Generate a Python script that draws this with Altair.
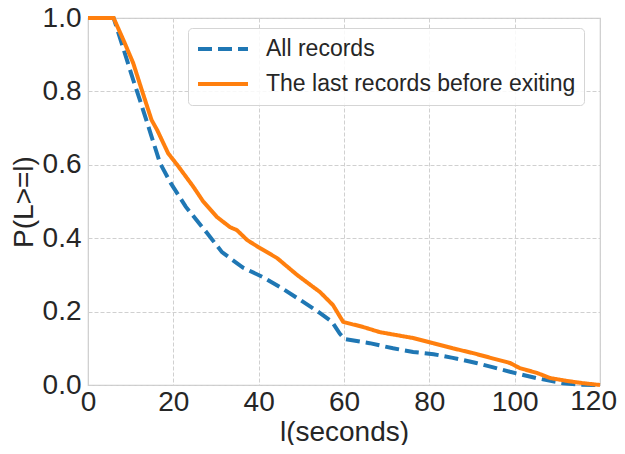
import altair as alt
import pandas as pd

# Series names
series_all = "All records"
series_last = "The last records before exiting"

# All records (blue dashed)
all_x = [0, 6, 7.9, 10.6, 11.9, 14.9, 16.9, 19.4, 22.9, 27.9, 31.4, 36.3, 41, 45, 49.7,
         54.4, 57.2, 59, 60.2, 66, 71.5, 76.2, 81, 85.5, 91, 95, 98.9, 105, 111.3, 115, 120]
all_y = [1, 1, 0.931, 0.831, 0.786, 0.677, 0.604, 0.55, 0.486, 0.414, 0.362, 0.32, 0.294,
         0.267, 0.232, 0.196, 0.172, 0.14, 0.125, 0.114, 0.10, 0.09, 0.084, 0.074, 0.06,
         0.048, 0.036, 0.019, 0.005, 0.001, 0]

# Last records before exiting (orange solid)
last_x = [0, 6, 8.3, 10.6, 12.6, 14.9, 16.2, 18.8, 20.9, 24.7, 27, 30.2, 33.3, 34.9, 37.3,
          40.3, 44.3, 49, 54.4, 57.4, 59.8, 64.5, 68.4, 76.2, 80.9, 85.5, 90.2, 95, 98.9,
          101.2, 105.2, 108.3, 112.3, 116, 120]
last_y = [1, 1, 0.94, 0.877, 0.804, 0.722, 0.695, 0.631, 0.60, 0.54, 0.5, 0.458, 0.43,
          0.422, 0.395, 0.373, 0.346, 0.30, 0.253, 0.218, 0.172, 0.158, 0.144, 0.128, 0.114,
          0.10, 0.087, 0.072, 0.06, 0.046, 0.033, 0.019, 0.011, 0.005, 0]

x_ticks = [0, 20, 40, 60, 80, 100, 120]
y_ticks = [0, 0.2, 0.4, 0.6, 0.8, 1.0]
x_last_tick = x_ticks[-1]

df = pd.concat([
    pd.DataFrame({"l": all_x, "p": all_y, "series": series_all}),
    pd.DataFrame({"l": last_x, "p": last_y, "series": series_last}),
], ignore_index=True)

FONT = "Liberation Sans"
TXT = "#262626"

lines = alt.Chart(df).mark_line(strokeWidth=4, strokeCap="butt").encode(
    x=alt.X("l:Q", title="l(seconds)",
            scale=alt.Scale(domain=[0, 120], nice=False, zero=False),
            axis=alt.Axis(values=x_ticks, labelFlush=False,
                          labelOverlap=False, labelPadding=3, titlePadding=2,
                          labelExpr=f"datum.value == {x_last_tick} ? '' : datum.label")),
    y=alt.Y("p:Q", title="P(L>=l)",
            scale=alt.Scale(domain=[0, 1], nice=False),
            axis=alt.Axis(values=y_ticks, format=".1f",
                          labelPadding=7, titlePadding=4)),
    color=alt.Color("series:N",
                    scale=alt.Scale(domain=[series_all, series_last],
                                    range=["#1f77b4", "#ff7f0e"]),
                    legend=alt.Legend(title=None, orient="none", legendX=100, legendY=10)),
    strokeDash=alt.StrokeDash("series:N",
                              scale=alt.Scale(domain=[series_all, series_last],
                                              range=[[14, 6], [1, 0]]),
                              legend=alt.Legend(title=None, orient="none", legendX=100, legendY=10)),
    order=alt.Order("l:Q"),
)

# last x tick label, kept inside the page edge
last_label = alt.Chart(pd.DataFrame({"l": [x_last_tick], "p": [0], "t": [str(x_last_tick)]})).mark_text(
    font=FONT, fontSize=28, color=TXT, align="right", baseline="top", dx=17, dy=3
).encode(x="l:Q", y="p:Q", text="t:N")

chart = alt.layer(lines, last_label).properties(
    width=512, height=367,
    autosize=alt.AutoSizeParams(type="none"),
    padding={"left": 80, "top": 10, "right": 17, "bottom": 60},
).configure_view(
    stroke="#cccccc", strokeWidth=1.2
).configure_axis(
    labelFont=FONT, titleFont=FONT, labelFontSize=28, titleFontSize=28,
    labelColor=TXT, titleColor=TXT, titleFontWeight="normal",
    grid=True, gridColor="#d0d0d0", gridDash=[4, 2], gridWidth=1,
    domain=False, ticks=False,
).configure_legend(
    labelFont=FONT, labelFontSize=23, labelColor=TXT, labelLimit=400,
    symbolType="stroke", symbolSize=2500, symbolStrokeWidth=4,
    fillColor="rgba(255,255,255,0.85)", strokeColor="#d5d5d5", cornerRadius=4,
    padding=8, clipHeight=26, rowPadding=9, labelOffset=16,
)

chart.save("out.html", embed_options={"renderer": "svg", "actions": False})
